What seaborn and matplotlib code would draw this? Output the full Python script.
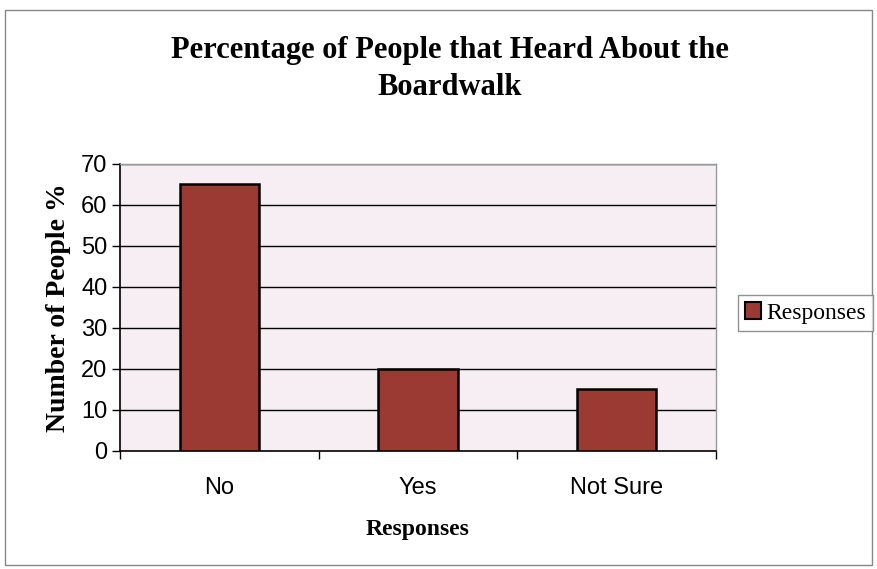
import matplotlib
matplotlib.use("Agg")
import matplotlib.pyplot as plt
import seaborn as sns
import pandas as pd
from matplotlib.patches import Rectangle, Patch

categories = ["No", "Yes", "Not Sure"]
values = [65, 20, 15]
yticks = [0, 10, 20, 30, 40, 50, 60, 70]

sns.set_theme(style="white")
plt.rcParams['font.family'] = ['Liberation Sans', 'DejaVu Sans']
plt.rcParams['text.color'] = 'black'
plt.rcParams['axes.labelcolor'] = 'black'
plt.rcParams['xtick.color'] = 'black'
plt.rcParams['ytick.color'] = 'black'

df = pd.DataFrame({"Responses": categories, "Percent": values})

fig = plt.figure(figsize=(8.77, 5.69), dpi=100)
fig.patch.set_facecolor("white")
ax = fig.add_axes([0.1368, 0.2074, 0.6796, 0.5044])
ax.set_facecolor("#f6eef2")

sns.barplot(data=df, x="Responses", y="Percent", color="#9b3a33", width=0.4,
            edgecolor="black", linewidth=1.8, saturation=1, ax=ax, zorder=3)

ax.set_ylim(0, 70)
ax.set_xlim(-0.5, 2.5)
ax.set_yticks(yticks)
ax.set_yticklabels([str(t) for t in yticks], fontsize=17)
for t in yticks[1:]:
    ax.axhline(t, color="black", linewidth=1.0, zorder=1)

ax.set_xticks(range(len(categories)))
ax.set_xticklabels(categories, fontsize=17)
ax.tick_params(axis="x", which="major", length=0, pad=19)
ax.set_xticks([-0.5, 0.5, 1.5, 2.5], minor=True)
ax.tick_params(axis="x", which="minor", length=6, width=1, color="black", direction="out", bottom=True)
ax.tick_params(axis="y", length=6, width=1, color="black", direction="out", left=True, pad=3)

for s in ["left", "bottom"]:
    ax.spines[s].set_color("black")
    ax.spines[s].set_linewidth(1.2)
for s in ["top", "right"]:
    ax.spines[s].set_color("#999999")
    ax.spines[s].set_linewidth(1.0)

serif = ['Liberation Serif', 'DejaVu Serif']
ax.set_xlabel("Responses", fontsize=17, fontweight="bold", family=serif, labelpad=14)
ax.set_ylabel("Number of People %", fontsize=20, fontweight="bold", family=serif, labelpad=7)

fig.text(0.513, 0.912, "Percentage of People that Heard About the", ha="center", va="center",
         fontsize=22, fontweight="bold", family=serif)
fig.text(0.513, 0.847, "Boardwalk", ha="center", va="center",
         fontsize=22, fontweight="bold", family=serif)

handle = Patch(facecolor="#9b3a33", edgecolor="black", linewidth=1.5)
leg = fig.legend([handle], ["Responses"], loc="center left", bbox_to_anchor=(0.841, 0.450),
                 frameon=True, fancybox=False, prop={"family": serif, "size": 17},
                 handlelength=0.7, handleheight=0.7, handletextpad=0.2, borderpad=0.3,
                 borderaxespad=0)
leg.get_frame().set_edgecolor("#777777")
leg.get_frame().set_linewidth(1.0)

fig.patches.append(Rectangle((0.006, 0.007), 0.988, 0.975, transform=fig.transFigure,
                             fill=False, edgecolor="#888888", linewidth=1.0))

fig.savefig("out.png", dpi=100)
